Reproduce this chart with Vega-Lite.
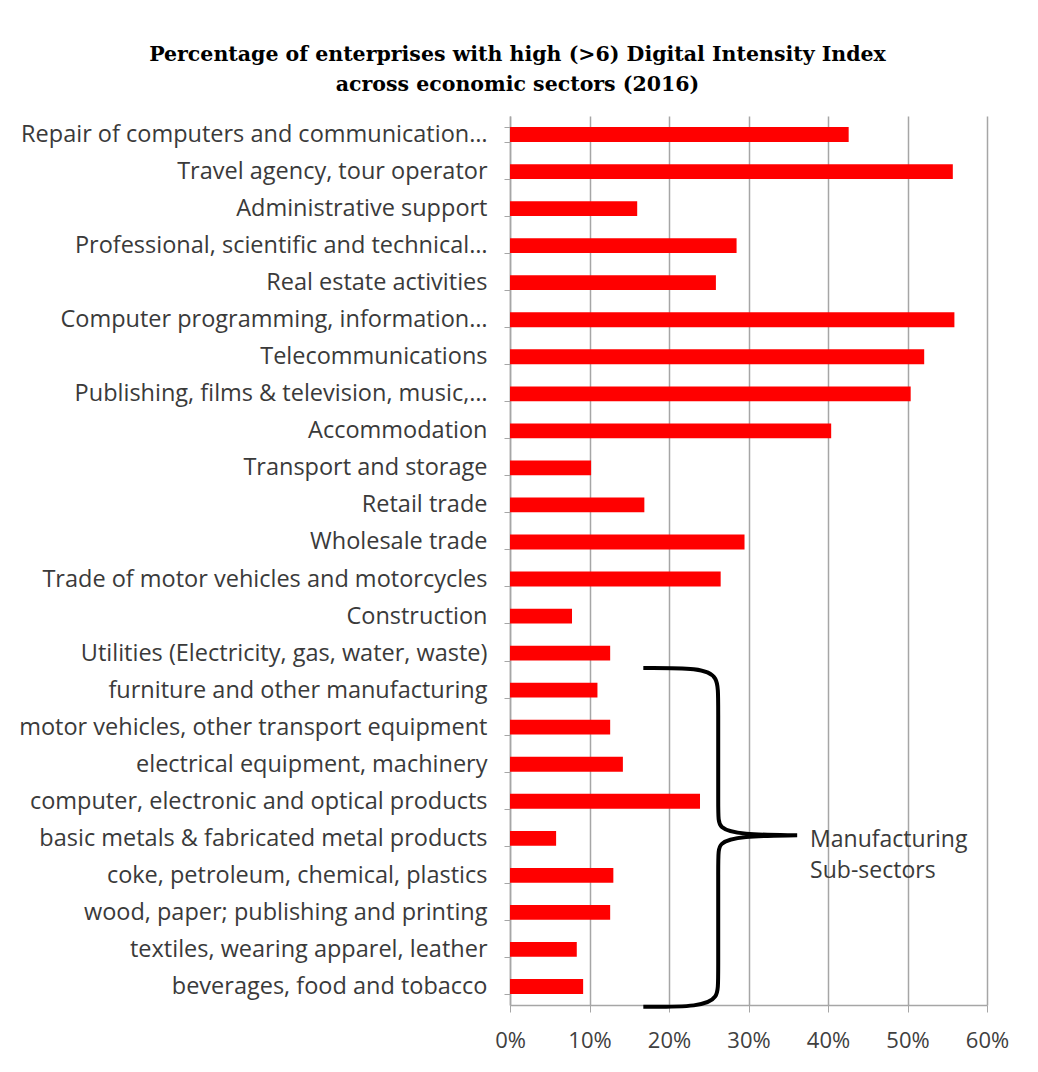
{
  "$schema": "https://vega.github.io/schema/vega-lite/v6.json",
  "autosize": {"type": "none"},
  "width": 477,
  "height": 889,
  "padding": {"left": 510, "top": 116, "right": 51, "bottom": 67},
  "background": "white",
  "title": {
    "text": ["Percentage of enterprises with high (>6) Digital Intensity Index", "across economic sectors (2016)"],
    "font": "DejaVu Serif",
    "fontSize": 20.5,
    "fontWeight": "bold",
    "color": "#000000",
    "anchor": "middle",
    "dx": -231,
    "offset": 9,
    "lineHeight": 30
  },
  "config": {"view": {"stroke": null}},
  "resolve": {"scale": {"y": "independent"}},
  "layer": [
    {
      "data": {
        "values": [
          {"sector": "Repair of computers and communication…", "value": 0.426},
          {"sector": "Travel agency, tour operator", "value": 0.557},
          {"sector": "Administrative support", "value": 0.160},
          {"sector": "Professional, scientific and technical…", "value": 0.285},
          {"sector": "Real estate activities", "value": 0.259},
          {"sector": "Computer programming, information…", "value": 0.559},
          {"sector": "Telecommunications", "value": 0.521},
          {"sector": "Publishing, films & television, music,…", "value": 0.504},
          {"sector": "Accommodation", "value": 0.404},
          {"sector": "Transport and storage", "value": 0.102},
          {"sector": "Retail trade", "value": 0.169},
          {"sector": "Wholesale trade", "value": 0.295},
          {"sector": "Trade of motor vehicles and motorcycles", "value": 0.265},
          {"sector": "Construction", "value": 0.078},
          {"sector": "Utilities (Electricity, gas, water, waste)", "value": 0.126},
          {"sector": "furniture and other manufacturing", "value": 0.110},
          {"sector": "motor vehicles, other transport equipment", "value": 0.126},
          {"sector": "electrical equipment, machinery", "value": 0.142},
          {"sector": "computer, electronic and optical products", "value": 0.239},
          {"sector": "basic metals & fabricated metal products", "value": 0.058},
          {"sector": "coke, petroleum, chemical, plastics", "value": 0.130},
          {"sector": "wood, paper; publishing and printing", "value": 0.126},
          {"sector": "textiles, wearing apparel, leather", "value": 0.084},
          {"sector": "beverages, food and tobacco", "value": 0.092}
        ]
      },
      "mark": {"type": "bar", "color": "#ff0000"},
      "encoding": {
        "y": {
          "field": "sector",
          "type": "nominal",
          "sort": null,
          "scale": {"paddingInner": 0.6, "paddingOuter": 0.3},
          "axis": {
            "title": null,
            "labelFont": "Open Sans",
            "labelFontSize": 23.5,
            "labelColor": "#3a3a3a",
            "labelPadding": 17,
            "labelLimit": 700,
            "tickSize": 6,
            "tickBand": "extent",
            "tickColor": "#a6a6a6",
            "domainColor": "#a6a6a6",
            "domainWidth": 1.5
          }
        },
        "x": {
          "field": "value",
          "type": "quantitative",
          "scale": {"domain": [0, 0.6], "nice": false},
          "axis": {
            "title": null,
            "format": ".0%",
            "values": [0, 0.1, 0.2, 0.3, 0.4, 0.5, 0.6],
            "grid": true,
            "gridColor": "#a6a6a6",
            "gridWidth": 1.5,
            "domainColor": "#a6a6a6",
            "domainWidth": 1.5,
            "tickColor": "#a6a6a6",
            "tickSize": 7,
            "labelFlush": false,
            "labelFont": "Open Sans",
            "labelFontSize": 22,
            "labelColor": "#404040",
            "labelPadding": 18
          }
        }
      }
    },
    {
      "data": {
        "values": [
          {"i": 1, "bx": 0.1677, "by": 14.90},
          {"i": 2, "bx": 0.2393, "by": 14.90},
          {"i": 3, "bx": 0.2619, "by": 15.12},
          {"i": 4, "bx": 0.2619, "by": 15.77},
          {"i": 5, "bx": 0.2619, "by": 18.87},
          {"i": 6, "bx": 0.2619, "by": 19.22},
          {"i": 7, "bx": 0.2896, "by": 19.40},
          {"i": 8, "bx": 0.3612, "by": 19.42},
          {"i": 9, "bx": 0.3612, "by": 19.42},
          {"i": 10, "bx": 0.3612, "by": 19.42},
          {"i": 11, "bx": 0.2896, "by": 19.44},
          {"i": 12, "bx": 0.2619, "by": 19.62},
          {"i": 13, "bx": 0.2619, "by": 19.98},
          {"i": 14, "bx": 0.2619, "by": 23.33},
          {"i": 15, "bx": 0.2619, "by": 23.81},
          {"i": 16, "bx": 0.2393, "by": 24.05},
          {"i": 17, "bx": 0.1677, "by": 24.05}
        ]
      },
      "mark": {"type": "line", "interpolate": "basis", "color": "#000000", "strokeWidth": 4, "clip": false},
      "encoding": {
        "x": {"field": "bx", "type": "quantitative", "scale": {"domain": [0, 0.6], "nice": false}},
        "y": {"field": "by", "type": "quantitative", "scale": {"domain": [0, 24], "reverse": true, "nice": false, "zero": false}, "axis": null},
        "order": {"field": "i", "type": "quantitative"}
      }
    },
    {
      "data": {
        "values": [
          {"t": "Manufacturing", "tx": 0.3775, "ty": 19.55},
          {"t": "Sub-sectors", "tx": 0.3775, "ty": 20.38}
        ]
      },
      "mark": {"type": "text", "align": "left", "baseline": "middle", "font": "Open Sans", "fontSize": 23, "color": "#3a3a3a"},
      "encoding": {
        "x": {"field": "tx", "type": "quantitative", "scale": {"domain": [0, 0.6], "nice": false}},
        "y": {"field": "ty", "type": "quantitative", "scale": {"domain": [0, 24], "reverse": true, "nice": false, "zero": false}, "axis": null},
        "text": {"field": "t"}
      }
    }
  ]
}
